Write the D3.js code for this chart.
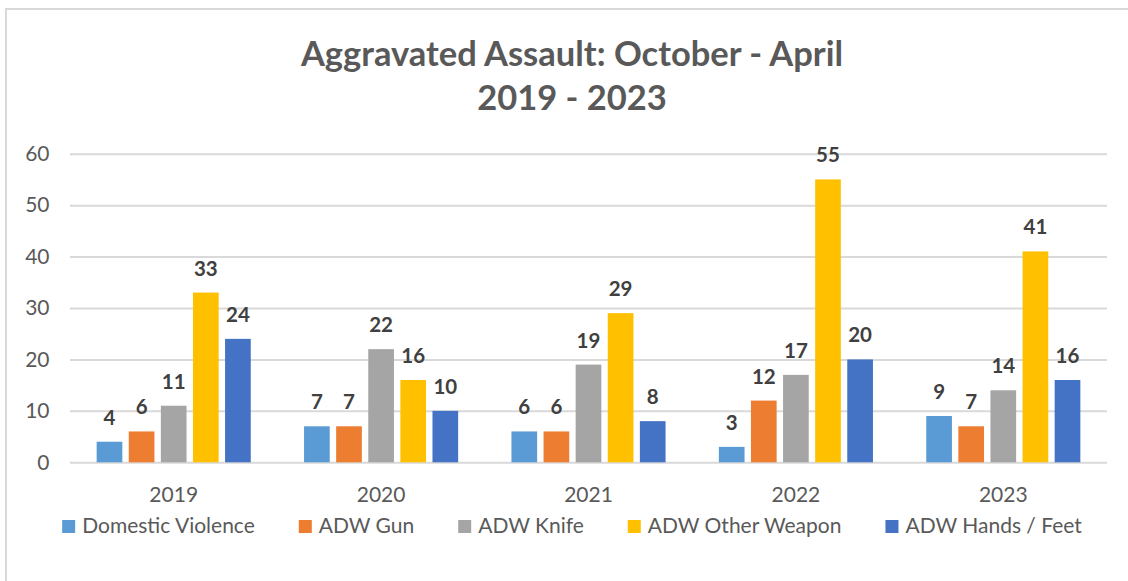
<html>
<head>
<script src="https://d3js.org/d3.v7.min.js"></script>
<style>
body { margin: 0; background: #fff; }
text { font-family: Lato, "Open Sans", sans-serif; }
</style>
</head>
<body>
<svg width=1128 height=581></svg>
<script>
/// data
var years = ["2019", "2020", "2021", "2022", "2023"];
var seriesNames = ["Domestic Violence", "ADW Gun", "ADW Knife", "ADW Other Weapon", "ADW Hands / Feet"];
var domesticViolence = [4, 7, 6, 3, 9];
var adwGun = [6, 7, 6, 12, 7];
var adwKnife = [11, 22, 19, 17, 14];
var adwOther = [33, 16, 29, 55, 41];
var adwHands = [24, 10, 8, 20, 16];
var yTicks = [0, 10, 20, 30, 40, 50, 60];

var colors = ["#5B9BD5", "#ED7D31", "#A5A5A5", "#FFC000", "#4472C4"];

function draw() {
  var allSeries = [domesticViolence, adwGun, adwKnife, adwOther, adwHands];
  // flat table for drawing
  var table = [];
  years.forEach(function(yr, i) {
    seriesNames.forEach(function(s, j) {
      table.push({year: yr, series: s, value: allSeries[j][i]});
    });
  });

  var svg = d3.select("svg");
  var plotLeft = 70, plotRight = 1107, plotTop = 153.7, plotBottom = 462.3;
  var midX = 572;

  // chart box (only left and top edge show in the picture)
  svg.append("rect")
    .attr("x", 6).attr("y", 9)
    .attr("width", 1140).attr("height", 600)
    .attr("fill", "none")
    .attr("stroke", "#D9D9D9")
    .attr("stroke-width", 2);

  /// scales
  var x0 = d3.scaleBand().domain(years).range([plotLeft, plotRight])
    .paddingInner(0.226).paddingOuter(0.113);
  var x1 = d3.scaleBand().domain(seriesNames).range([0, x0.bandwidth()])
    .paddingInner(0.2).paddingOuter(0.1);
  var y = d3.scaleLinear().domain([0, 60]).range([plotBottom, plotTop]);
  var color = d3.scaleOrdinal().domain(seriesNames).range(colors);

  /// gridlines + y labels
  var yAxis = svg.append("g")
    .attr("transform", "translate(" + plotLeft + ",0)")
    .call(d3.axisLeft(y).tickValues(yTicks).tickSize(-(plotRight - plotLeft)).tickPadding(20.5));
  yAxis.select(".domain").remove();
  yAxis.selectAll("line").attr("stroke", "#D9D9D9").attr("stroke-width", 2);
  yAxis.selectAll("text")
    .style("font-size", "21px")
    .style("font-family", "Lato")
    .attr("fill", "#595959");

  /// bars
  svg.append("g").selectAll("rect").data(table).enter().append("rect")
    .attr("x", function(d) { return x0(d.year) + x1(d.series); })
    .attr("y", function(d) { return y(d.value); })
    .attr("width", x1.bandwidth())
    .attr("height", function(d) { return y(0) - y(d.value); })
    .attr("fill", function(d) { return color(d.series); });

  /// value labels
  svg.append("g").selectAll("text").data(table).enter().append("text")
    .attr("x", function(d) { return x0(d.year) + x1(d.series) + x1.bandwidth() / 2; })
    .attr("y", function(d) { return y(d.value) - 17; })
    .attr("text-anchor", "middle")
    .style("font-size", "20.5px")
    .style("font-weight", "bold")
    .attr("fill", "#404040")
    .text(function(d) { return d.value; });

  /// x axis
  var xAxis = svg.append("g")
    .attr("transform", "translate(0," + plotBottom + ")")
    .call(d3.axisBottom(x0).tickSize(0).tickPadding(25));
  xAxis.select(".domain").remove();
  xAxis.selectAll("text")
    .style("font-size", "21px")
    .style("font-family", "Lato")
    .attr("fill", "#595959");

  /// title
  var title = svg.append("text")
    .attr("text-anchor", "middle")
    .style("font-size", "34.5px")
    .style("font-weight", "bold")
    .attr("fill", "#595959");
  title.append("tspan").attr("x", midX).attr("y", 66).text("Aggravated Assault: October - April");
  title.append("tspan").attr("x", midX).attr("y", 110).text("2019 - 2023");

  /// legend: square, gap, text, then a wider gap to the next one
  var legend = svg.append("g");
  var items = legend.selectAll("g").data(seriesNames).enter().append("g");
  items.append("rect")
    .attr("y", 520).attr("width", 13).attr("height", 13)
    .attr("fill", function(d) { return color(d); });
  items.append("text")
    .attr("x", 20).attr("y", 533)
    .style("font-size", "21px")
    .attr("fill", "#595959")
    .text(function(d) { return d; });

  var pos = 0;
  items.each(function() {
    var g = d3.select(this);
    var w = 20 + g.select("text").node().getComputedTextLength();
    g.attr("transform", "translate(" + pos + ",0)");
    pos += w + 44;
  });
  var total = pos - 44;
  legend.attr("transform", "translate(" + (midX - total / 2) + ",0)");
}
draw();
</script>
</body>
</html>
